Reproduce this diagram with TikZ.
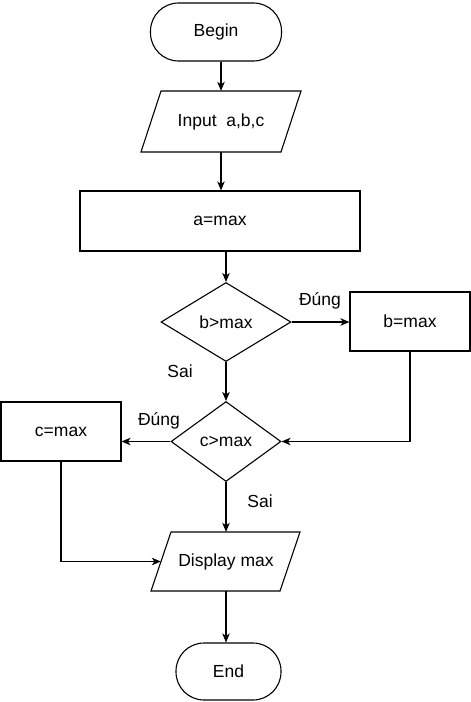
\documentclass[tikz,border=0pt]{standalone}
\usepackage{fontspec}
\setmainfont{Liberation Sans}
\usetikzlibrary{arrows.meta,shapes.geometric}
\begin{document}
\begin{tikzpicture}[x=1pt,y=-1pt,
  every node/.style={font=\fontsize{17.5}{20}\selectfont, inner sep=0pt},
  lw/.style={line width=1.1pt},
  term/.style={lw, draw, rounded corners=28pt, minimum width=#1, minimum height=58pt},
  procbox/.style={lw, draw, minimum height=59pt},
  decide/.style={lw, draw, diamond, inner sep=0pt},
  arr/.style={lw, -{Stealth[length=9pt,width=7.5pt,inset=2.5pt]}}]
\useasboundingbox (0,0) rectangle (471,702);
% terminals
\node[term=131pt] (Begin) at (216,32) {Begin};
% input parallelogram
\draw[lw] (161,91) -- (301,91) -- (281,152) -- (141,152) -- cycle;
\node[minimum width=140pt, minimum height=61pt] (Input) at (221,121.5) {Input\ \ a,b,c};
% a=max
\node[procbox, minimum width=280pt, minimum height=60pt] (amax) at (220,221) {a=max};
% b>max
\node[decide, minimum width=130pt, minimum height=79pt] (bgt) at (226,322) {b>max};
\node[procbox, minimum width=120pt] (bmax) at (410,321.5) {b=max};
% c>max
\node[decide, minimum width=110pt, minimum height=80pt] (cgt) at (226,441.5) {c>max};
\node[procbox, minimum width=120pt] (cmax) at (61,431.5) {c=max};
% display
\draw[lw] (171,532) -- (300,532) -- (280,591) -- (151,591) -- cycle;
\node[minimum width=130pt, minimum height=59pt] (Disp) at (226,561.5) {Display max};
% end
\node[term=105pt, minimum height=57pt] (End) at (228.5,671.5) {End};
% labels
\node (l1) at (320,301) {Đúng};
\node (l2) at (180,371) {Sai};
\node (l3) at (159,421) {Đúng};
\node (l4) at (260,501) {Sai};
% connectors
\draw[arr] (Begin.south -| Input.north) -- (Input.north);
\draw[arr] (Input.south) -- (Input.south |- amax.north);
\draw[arr] (amax.south -| bgt.north) -- (bgt.north);
\draw[arr] (bgt.east) -- (bgt.east -| bmax.west);
\draw[arr] (bgt.south) -- (cgt.north);
\draw[arr] (bmax.south) |- (cgt.east);
\draw[arr] (cgt.west) -- (cgt.west -| cmax.east);
\draw[arr] (cgt.south) -- (Disp.north);
\draw[arr] (cmax.south) |- (Disp.west);
\draw[arr] (Disp.south) -- (Disp.south |- End.north);
\end{tikzpicture}
\end{document}
